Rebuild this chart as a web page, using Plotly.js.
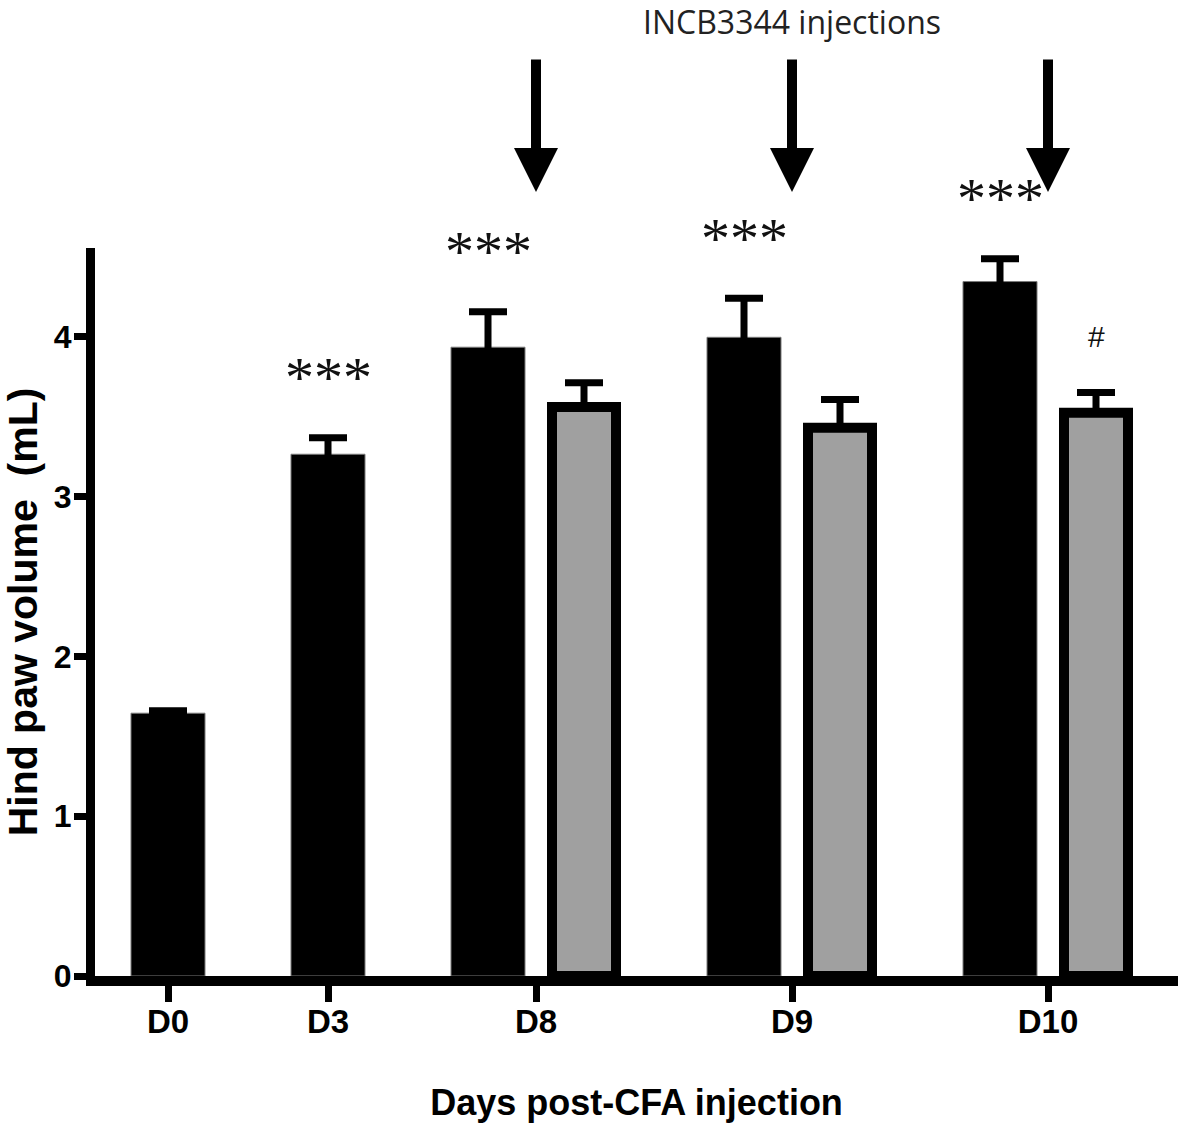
<!DOCTYPE html>
<html>
<head>
<meta charset="utf-8">
<script src="https://cdn.plot.ly/plotly-3.0.1.min.js"></script>
<style>
  html, body { margin: 0; padding: 0; background: #ffffff; }
  #chart { width: 1181px; height: 1125px; }
</style>
</head>
<body>
<div id="chart"></div>
<script>
// ---- data ----
const days = ['D0', 'D3', 'D8', 'D9', 'D10'];
const cfaMean = [1.645, 3.266, 3.936, 3.998, 4.347];   // CFA (black bars), mL
const cfaSem  = [0.015, 0.104, 0.222, 0.245, 0.142];
const incbMean = [null, null, 3.561, 3.432, 3.526];   // CFA + INCB3344 (grey bars), mL
const incbSem  = [null, null, 0.152, 0.177, 0.126];
const cfaSig  = ['', '***', '***', '***', '***'];
const incbSig = ['', '', '', '', '#'];
const injectionDays = ['D8', 'D9', 'D10'];
const injectionLabel = 'INCB3344 injections';

// ---- layout rules (group placement) ----
const pairOffset = 0.6;
const blackX = [], greyX = [], tickX = [];
let pos = 0;
days.forEach((d, i) => {
  blackX.push(pos);
  if (incbMean[i] !== null) {
    greyX.push(pos + pairOffset);
    tickX.push(pos + pairOffset / 2);
    pos += 1 + pairOffset;
  } else {
    greyX.push(null);
    tickX.push(pos);
    pos += 1;
  }
});

const gX = [], gY = [], gE = [];
days.forEach((d, i) => {
  if (incbMean[i] !== null) { gX.push(greyX[i]); gY.push(incbMean[i]); gE.push(incbSem[i]); }
});

const blackTrace = {
  type: 'bar', x: blackX, y: cfaMean, width: 0.4625,
  marker: { color: '#000000', line: { color: '#7a7a7a', width: 1 } },
  error_y: { type: 'data', symmetric: true, array: cfaSem,
             color: '#000000', thickness: 7, width: 19 },
  hoverinfo: 'y', showlegend: false
};
const greyTrace = {
  type: 'bar', x: gX, y: gY, width: 0.4,
  marker: { color: '#a0a0a0', line: { color: '#000000', width: 10 } },
  error_y: { type: 'data', symmetric: false, array: gE, arrayminus: gE.map(() => 0),
             color: '#000000', thickness: 7, width: 19 },
  hoverinfo: 'y', showlegend: false
};

const annotations = [];
days.forEach((d, i) => {
  if (cfaSig[i]) {
    annotations.push({
      x: blackX[i], y: cfaMean[i] + cfaSem[i], xref: 'x', yref: 'y',
      text: cfaSig[i], showarrow: false, yshift: 60, yanchor: 'middle',
      font: { family: 'Liberation Serif, Times New Roman, serif', size: 58, color: '#111' }
    });
  }
  if (incbSig[i]) {
    annotations.push({
      x: greyX[i], y: incbMean[i] + incbSem[i], xref: 'x', yref: 'y',
      text: incbSig[i], showarrow: false, yshift: 56, yanchor: 'middle',
      font: { family: 'Liberation Sans, Arial, sans-serif', size: 30, color: '#111' }
    });
  }
  if (injectionDays.includes(d)) {
    annotations.push({
      x: tickX[i], y: 1.0769, xref: 'x', yref: 'paper',
      text: '', showarrow: true, ax: 0, ay: -134,
      arrowhead: 2, arrowsize: 0.88, arrowwidth: 10, arrowcolor: '#000000', standoff: 0
    });
  }
});
annotations.push({
  x: tickX[days.indexOf('D9')], y: 1.3105, xref: 'x', yref: 'paper',
  xanchor: 'center', yanchor: 'middle',
  text: injectionLabel, showarrow: false,
  font: { family: 'Open Sans, Noto Sans, sans-serif', size: 32, color: '#222' }
});

const layout = {
  width: 1181, height: 1125,
  margin: { l: 95, r: 3, t: 248, b: 149 },
  paper_bgcolor: '#ffffff', plot_bgcolor: '#ffffff',
  barmode: 'overlay',
  showlegend: false,
  xaxis: {
    range: [-0.45625, 6.3125],
    tickmode: 'array', tickvals: tickX, ticktext: days,
    ticks: 'outside', ticklen: 16, tickwidth: 7, tickcolor: '#000',
    ticklabelstandoff: -9,
    showline: true, linewidth: 10, linecolor: '#000',
    showgrid: false, zeroline: false,
    tickfont: { family: 'Liberation Sans, Arial, sans-serif', size: 33, color: '#000', weight: 'bold' },
    title: { text: 'Days post-CFA injection', standoff: 55,
             font: { family: 'Liberation Sans, Arial, sans-serif', size: 36, color: '#000', weight: 'bold' } }
  },
  yaxis: {
    range: [0, 4.557],
    tickmode: 'array', tickvals: [0, 1, 2, 3, 4],
    ticks: 'outside', ticklen: 12, tickwidth: 7, tickcolor: '#000',
    ticklabelstandoff: -4,
    showline: true, linewidth: 9, linecolor: '#000',
    showgrid: false, zeroline: false,
    tickfont: { family: 'Liberation Sans, Arial, sans-serif', size: 32, color: '#000', weight: 'bold' },
    title: { text: 'Hind paw volume\u00a0 (mL)', standoff: 18,
             font: { family: 'Liberation Sans, Arial, sans-serif', size: 41, color: '#000', weight: 'bold' } }
  },
  annotations: annotations
};

Plotly.newPlot('chart', [blackTrace, greyTrace], layout, { staticPlot: true, displayModeBar: false });
</script>
</body>
</html>
